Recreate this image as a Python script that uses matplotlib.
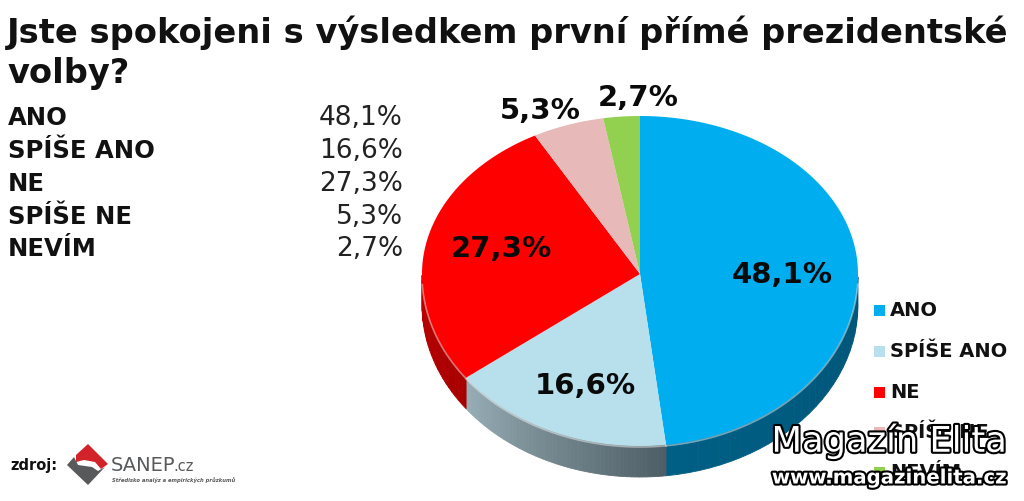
import numpy as np
import matplotlib
matplotlib.use('Agg')
import matplotlib.pyplot as plt
import matplotlib.patheffects as pe

title = 'Jste spokojeni s výsledkem první přímé prezidentské\nvolby?'
categories = ['ANO', 'SPÍŠE ANO', 'NE', 'SPÍŠE NE', 'NEVÍM']
values = [48.1, 16.6, 27.3, 5.3, 2.7]
value_labels = ['48,1%', '16,6%', '27,3%', '5,3%', '2,7%']
colors = ['#00aeef', '#b7dfec', '#fe0000', '#e8b9b9', '#92d050']
side_left = ['#005f85', '#97adb5', '#d80000', '#c09090', '#70a040']
side_right = ['#004a68', '#4e5e66', '#a80000', '#c09090', '#70a040']
slice_label_pos = [(782, 275), (585, 386), (501, 249), (540, 111), (638, 98)]
legend_y = [311, 352, 393, 433, 473]
table_y = [118, 151, 184, 217, 249]

cx, cy = 640, 275
rx, ry_top, ry_bot = 218, 158, 172
depth = 31


def rim(theta):
    # theta measured clockwise from the top of the pie
    c = np.cos(theta)
    ry = np.where(c > 0, ry_top, ry_bot)
    return cx + rx * np.sin(theta), cy - ry * c


def blend(a, b, t):
    a = np.array(matplotlib.colors.to_rgb(a))
    b = np.array(matplotlib.colors.to_rgb(b))
    return a + (b - a) * t


fig = plt.figure(figsize=(10.24, 5.02), dpi=100)
ax = fig.add_axes([0, 0, 1, 1])
ax.set_xlim(0, 1024)
ax.set_ylim(502, 0)
ax.axis('off')

fig.text(7 / 1024, 1 - 16 / 502, title, fontsize=24.2, fontweight='bold', va='top',
         linespacing=1.25, color='#111111')

for name, label, y in zip(categories, value_labels, table_y):
    ax.text(8, y, name, fontsize=17.5, fontweight='bold', va='center', color='#111111')
    ax.text(403, y, label, fontsize=19, va='center', ha='right', color='#222222')

# side of the pie, then the top face
edges = np.concatenate([[0], np.cumsum(values)]) / sum(values) * 2 * np.pi
for i in range(len(values)):
    a0, a1 = edges[i], edges[i + 1]
    steps = np.linspace(a0, a1, 60)
    for j in range(len(steps) - 1):
        t = j / (len(steps) - 2)
        mid = steps[j:j + 2]
        if np.cos(mid).max() > 0.02:
            continue
        x, y = rim(mid)
        # gradient runs left to right, so flip for clockwise order
        ax.fill([x[0], x[1], x[1], x[0]], [y[0], y[1], y[1] + depth, y[0] + depth],
                color=blend(side_right[i], side_left[i], t), lw=0.6, zorder=2)

for i in range(len(values)):
    steps = np.linspace(edges[i], edges[i + 1], 120)
    x, y = rim(steps)
    ax.fill(np.r_[cx, x], np.r_[cy, y], color=colors[i], lw=0, zorder=3)
    front = np.cos(steps) < -0.05
    ax.plot(x[front], y[front] + 1, color='white', alpha=0.45, lw=1.2, zorder=4)

for label, (x, y) in zip(value_labels, slice_label_pos):
    ax.text(x, y, label, fontsize=21, fontweight='bold', ha='center', va='center',
            color='#0a0a0a', zorder=5)

# legend
for name, color, y in zip(categories, colors, legend_y):
    ax.fill([874, 885, 885, 874], [y - 5, y - 5, y + 6, y + 6], color=color, lw=0, zorder=5)
    ax.text(890, y, name, fontsize=14, fontweight='bold', va='center', color='#111111', zorder=5)

# source and logo
ax.text(10, 466, 'zdroj:', fontsize=10.5, fontweight='bold', va='center', color='#111111')
ax.fill([76, 88, 108, 101, 95, 84, 76], [456, 445, 465, 470, 463, 461, 463], color='#d2232a', lw=0, zorder=5)
ax.fill([67, 74, 78, 92, 98, 105, 88], [466, 458, 466, 468, 472, 468, 486], color='#58595b', lw=0, zorder=5)
ax.text(111, 466, 'SANEP', fontsize=14, va='center', color='#58595b')
ax.text(173, 467, '.cz', fontsize=10.5, va='center', color='#58595b')
ax.text(112, 480, 'Středisko analýz a empirických průzkumů', fontsize=3.8, style='italic',
        fontweight='bold', va='center', color='#58595b')

# watermark
stroke = [pe.withStroke(linewidth=3, foreground='black')]
ax.text(1007, 442, 'Magazín Elita', fontsize=25.4, ha='right', va='center', color='white',
        path_effects=stroke, zorder=6)
ax.text(1007, 479, 'www.magazinelita.cz', fontsize=14.2, fontweight='bold', ha='right', va='center',
        color='white', path_effects=stroke, zorder=6)

fig.savefig('out.png', dpi=100)
